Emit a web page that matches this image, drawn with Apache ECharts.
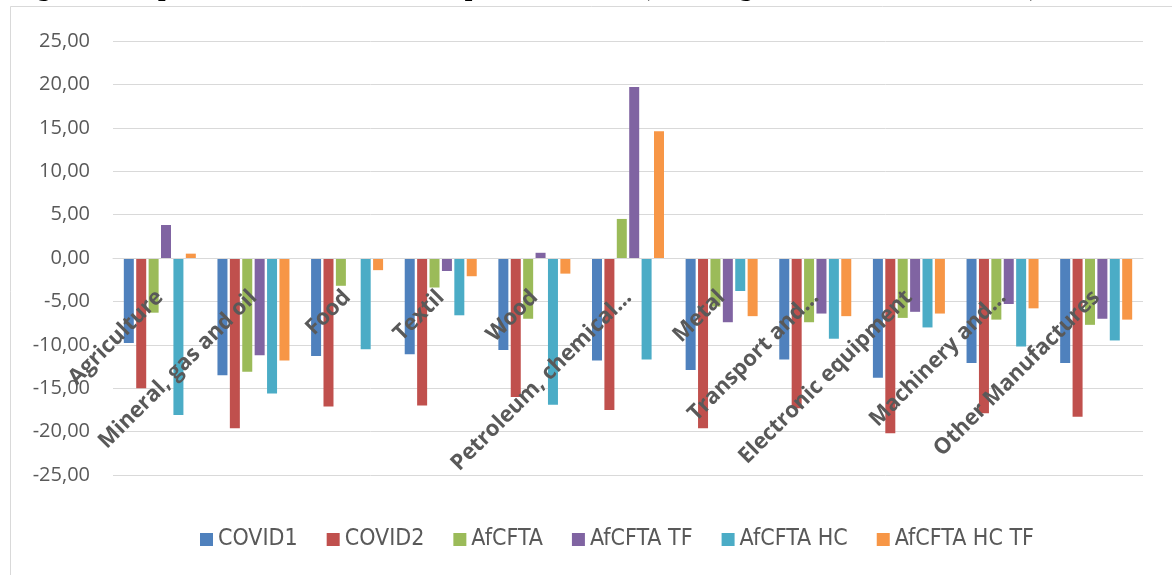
<!DOCTYPE html>
<html>
<head>
<meta charset="utf-8">
<script src="https://cdn.jsdelivr.net/npm/echarts@6/dist/echarts.min.js"></script>
<style>
  html, body { margin: 0; padding: 0; background: #ffffff; }
  #chart { width: 1172px; height: 575px; }
</style>
</head>
<body>
<div id="chart"></div>
<script>
// Sectors on the category axis
const categories = [
  'Agriculture', 'Mineral, gas and oil', 'Food', 'Textil', 'Wood',
  'Petroleum, chemical…', 'Metal', 'Transport and…', 'Electronic equipment',
  'Machinery and…', 'Other Manufactures'
];

// Percentage change in imports per scenario
const covid1     = [ -9.8, -13.5, -11.3, -11.1, -10.6, -11.8, -12.9, -11.7, -13.8, -12.1, -12.1];
const covid2     = [-15.0, -19.6, -17.1, -17.0, -16.0, -17.5, -19.6, -17.3, -20.2, -17.9, -18.3];
const afcfta     = [ -6.3, -13.1,  -3.2,  -3.4,  -7.0,   4.5,  -5.6,  -7.4,  -6.9,  -7.1,  -7.7];
const afcftaTF   = [  3.8, -11.2,   0.0,  -1.5,   0.6,  19.7,  -7.4,  -6.4,  -6.2,  -5.3,  -7.0];
const afcftaHC   = [-18.1, -15.6, -10.5,  -6.6, -16.9, -11.7,  -3.8,  -9.3,  -8.0, -10.2,  -9.5];
const afcftaHCTF = [  0.5, -11.8,  -1.4,  -2.1,  -1.8,  14.6,  -6.7,  -6.7,  -6.4,  -5.8,  -7.1];

const seriesNames = ['COVID1', 'COVID2', 'AfCFTA', 'AfCFTA TF', 'AfCFTA HC', 'AfCFTA HC TF'];
const seriesValues = [covid1, covid2, afcfta, afcftaTF, afcftaHC, afcftaHCTF];
const seriesColors = ['#4F81BD', '#C0504D', '#9BBB59', '#8064A2', '#4BACC6', '#F79646'];

// Value axis range
const yMin = -25;
const yMax = 25;
const yStep = 5;

const titleText = 'Figure 4: Impact of the scenarios on imports in Africa (% change relative to the baseline)';

// Plot area
const gridTop = 41;
const gridBottom = 100;
const plotHeight = 575 - gridTop - gridBottom;
// Category labels sit on the zero line, so lift the category axis up to it
const zeroOffset = -plotHeight * (0 - yMin) / (yMax - yMin);

const chart = echarts.init(document.getElementById('chart'), null, { renderer: 'canvas' });

const option = {
  backgroundColor: '#ffffff',
  animation: false,
  graphic: [
    {
      type: 'rect',
      shape: { x: 10.5, y: 6.5, width: 1200, height: 600 },
      style: { fill: 'none', stroke: '#d9d9d9', lineWidth: 1 },
      z: -1
    },
    {
      // Heading line above the frame; only its lower edge falls inside the page
      type: 'text',
      x: 13,
      y: -12,
      style: {
        text: titleText,
        font: 'bold 27px "Liberation Serif", "Times New Roman", serif',
        fill: '#000000',
        align: 'left',
        verticalAlign: 'middle'
      },
      z: 100
    }
  ],
  grid: { left: 113, right: 29, top: gridTop, bottom: gridBottom, containLabel: false, outerBoundsMode: 'none' },
  legend: {
    data: seriesNames,
    top: 523,
    left: 195,
    itemWidth: 13,
    itemHeight: 13,
    itemGap: 29,
    icon: 'rect',
    textStyle: {
      fontFamily: '"Liberation Sans Narrow", "DejaVu Sans Condensed", sans-serif',
      fontSize: 23,
      color: '#595959'
    }
  },
  xAxis: {
    type: 'category',
    data: categories,
    z: 10,
    offset: zeroOffset,
    axisLine: { onZero: false, lineStyle: { color: '#d9d9d9', width: 1 } },
    axisTick: { show: false },
    axisLabel: {
      interval: 0,
      rotate: 45,
      margin: 36,
      fontFamily: '"Open Sans", sans-serif',
      fontWeight: 'bold',
      fontSize: 22,
      color: '#595959'
    },
    splitLine: { show: false }
  },
  yAxis: {
    type: 'value',
    min: yMin,
    max: yMax,
    interval: yStep,
    axisLine: { show: false },
    axisTick: { show: false },
    axisLabel: {
      margin: 23,
      fontFamily: '"Open Sans", sans-serif',
      fontSize: 20,
      color: '#595959',
      formatter: v => v.toFixed(2).replace('.', ',')
    },
    splitLine: { lineStyle: { color: '#d9d9d9', width: 1 } }
  },
  series: seriesNames.map((name, i) => ({
    name,
    type: 'bar',
    data: seriesValues[i],
    barWidth: 10,
    barGap: '24%',
    itemStyle: { color: seriesColors[i] }
  }))
};

chart.setOption(option);
</script>
</body>
</html>
